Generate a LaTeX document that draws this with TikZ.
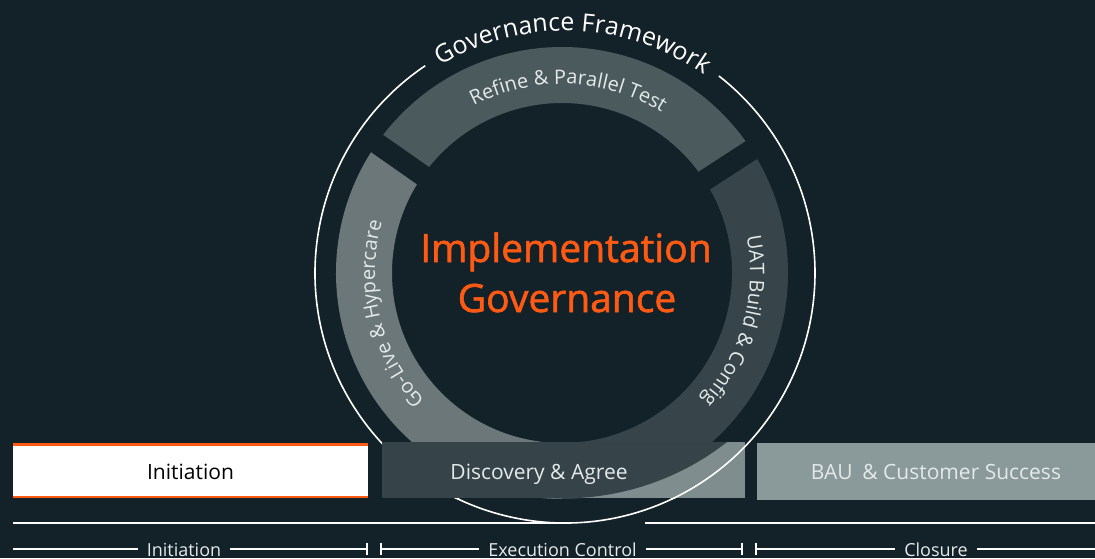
\documentclass[tikz,border=0pt]{standalone}
\usepackage{fontspec}
\setmainfont{Open Sans}
\newfontfamily\titlefont[FakeBold=1.5]{Open Sans}
\usetikzlibrary{calc,decorations.text}
\definecolor{bg}{HTML}{132129}
\definecolor{segtop}{HTML}{4B5A5D}
\definecolor{segleft}{HTML}{6B7778}
\definecolor{segright}{HTML}{37454B}
\definecolor{bardark}{HTML}{36444A}
\definecolor{barlight}{HTML}{7F8D8F}
\definecolor{baubar}{HTML}{8A9999}
\definecolor{lighttext}{HTML}{E4E9E9}
\definecolor{accent}{HTML}{FF5A14}
\tikzset{
  whiteline/.style={draw=white, line width=1.6pt},
  bartext/.style={font=\fontsize{21}{21}\selectfont, text=lighttext, anchor=base, inner sep=0pt},
  tllabel/.style={font=\fontsize{18}{18}\selectfont, text=lighttext, anchor=base, inner sep=9pt},
  titletext/.style={font=\titlefont\fontsize{39}{39}\selectfont, text=accent, anchor=base, inner sep=0pt},
  gap/.style={draw=bg, line width=21pt},
}
\begin{document}
\begin{tikzpicture}[x=1pt,y=1pt]
\useasboundingbox (0,0) rectangle (1095,558);
\fill[bg] (0,0) rectangle (1095,558);
\coordinate (C) at (562,285);
\coordinate (O) at (565,285);
\coordinate (D) at (563,326.4);

% ring segments
\fill[segtop] ($(C)+(33:226)$) arc[start angle=33,end angle=145,radius=226]
  -- ($(C)+(145:170)$) arc[start angle=145,end angle=33,radius=170] -- cycle;
\fill[segleft] ($(C)+(145:226)$) arc[start angle=145,end angle=270,radius=226]
  -- ($(C)+(270:170)$) arc[start angle=270,end angle=145,radius=170] -- cycle;
\fill[segright] ($(C)+(-90:226)$) arc[start angle=-90,end angle=33,radius=226]
  -- ($(C)+(33:170)$) arc[start angle=33,end angle=-90,radius=170] -- cycle;
\draw[gap] ($(C)+(33:160)$) -- ($(C)+(33:236)$);
\draw[gap] ($(C)+(145:160)$) -- ($(C)+(145:236)$);

% outer circle with gap for title
\draw[whiteline] ($(O)+(124:250)$) arc[start angle=124,end angle=412,radius=250];
\path[decorate, decoration={text along path, text align=center, text color=white,
  text={|\fontsize{25}{25}\selectfont|Governance Framework}}]
  ($(O)+(160:242)$) arc[start angle=160,end angle=16,radius=242];

% ring texts
\path[decorate, decoration={text along path, text align=center, text color=lighttext,
  text={|\fontsize{20}{20}\selectfont|Refine {\&} Parallel Test}}]
  ($(C)+(148:189)$) arc[start angle=148,end angle=28,radius=189];
\path[decorate, decoration={text along path, text align=center, text color=lighttext,
  text={|\fontsize{20}{20}\selectfont|Go-Live {\&} Hypercare}}]
  ($(C)+(250:187)$) arc[start angle=250,end angle=137,radius=187];
\path[decorate, decoration={text along path, text align=center, text color=lighttext,
  text={|\fontsize{20}{20}\selectfont|UAT Build {\&} Config}}]
  ($(C)+(40:188)$) arc[start angle=40,end angle=-71,radius=188];

% title
\node[titletext] (title1) at (566,296) {Implementation};
\node[titletext] (title2) at (567,246) {Governance};

% bars
\fill[white] (13,60) rectangle (368,115);
\node[bartext, text=black] (init) at (190.5,79) {Initiation};
\coordinate (initNW) at (13,113.5);
\coordinate (initNE) at (368,113.5);
\coordinate (initSW) at (13,61);
\coordinate (initSE) at (368,61);
\draw[accent, line width=3pt] (initNW) -- (initNE);
\draw[accent, line width=2pt] (initSW) -- (initSE);

\begin{scope}
  \clip (382,60) rectangle (745,116);
  \fill[barlight] (382,60) rectangle (745,116);
  \draw[whiteline] (O) circle[radius=250];
  \fill[bardark] (D) circle[radius=266.8];
  \fill[bardark] (382,60) rectangle (563,116);
\end{scope}
\node[bartext] (disc) at (539,79) {Discovery {\&} Agree};

\fill[baubar] (757,58) rectangle (1095,115);
\node[bartext] (bau) at (936,79) {BAU\hspace{0.2em} {\&} Customer Success};

% divider lines
\coordinate (hl1) at (13,35);
\coordinate (hl2) at (560,35);
\coordinate (hr1) at (645,35);
\coordinate (hr2) at (1095,35);
\draw[whiteline] (hl1) -- (hl2);
\draw[whiteline] (hr1) -- (hr2);

% timeline
\node[tllabel] (t1) at (184,2) {Initiation};
\node[tllabel] (t2) at (562.5,2) {Execution Control};
\node[tllabel] (t3) at (936,2) {Closure};
\coordinate (a0) at (13,9);
\coordinate (a1) at (367,9);
\coordinate (b0) at (381,9);
\coordinate (b1) at (742,9);
\coordinate (c0) at (756,9);
\coordinate (c1) at (1095,9);
\draw[whiteline] (a0) -- (a0 -| t1.west);
\draw[whiteline] (a0 -| t1.east) -- (a1);
\draw[whiteline] (b0) -- (b0 -| t2.west);
\draw[whiteline] (b0 -| t2.east) -- (b1);
\draw[whiteline] (c0) -- (c0 -| t3.west);
\draw[whiteline] (c0 -| t3.east) -- (c1);
\draw[whiteline] ($(a1)+(0,-6)$) -- ($(a1)+(0,6)$);
\draw[whiteline] ($(b0)+(0,-6)$) -- ($(b0)+(0,6)$);
\draw[whiteline] ($(b1)+(0,-6)$) -- ($(b1)+(0,6)$);
\draw[whiteline] ($(c0)+(0,-6)$) -- ($(c0)+(0,6)$);
\end{tikzpicture}
\end{document}
